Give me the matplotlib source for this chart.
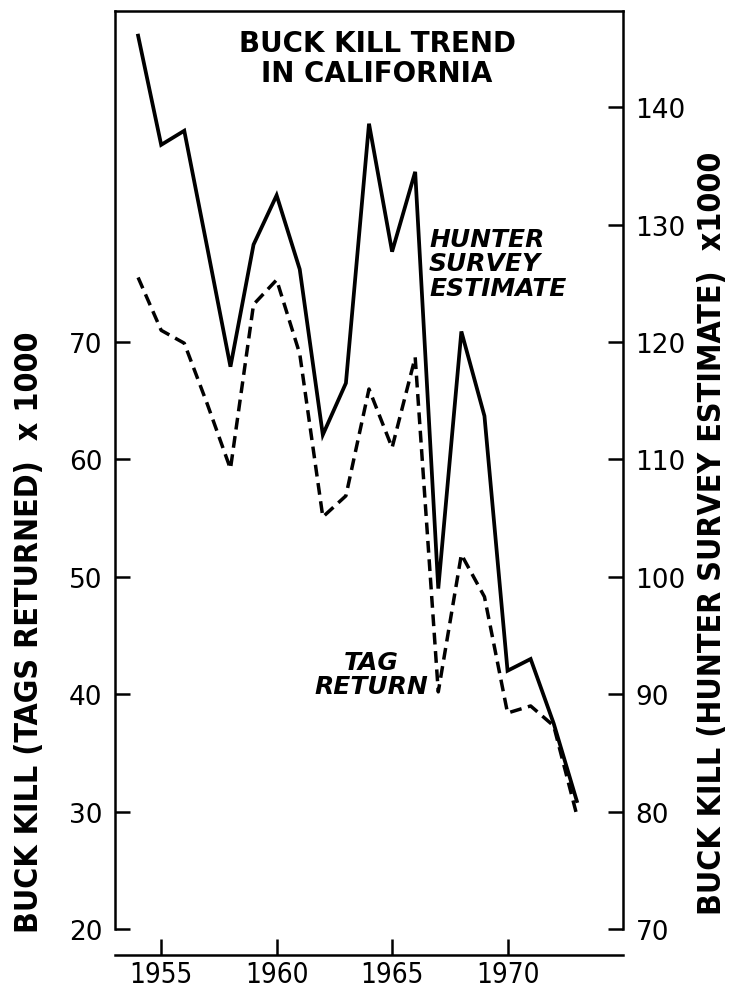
import matplotlib
matplotlib.use('Agg')
import matplotlib.pyplot as plt

years = list(range(1954, 1974))
hunter_survey = [146.1, 136.8, 138.0, 128.0, 117.9, 128.3, 132.5, 126.2, 112.1, 116.5,
                 138.6, 127.7, 134.5, 99.0, 120.9, 113.7, 92.0, 93.0, 87.5, 80.9]
tag_return = [75.5, 71.0, 69.9, 64.7, 59.2, 73.2, 75.3, 69.0, 55.1, 56.9,
              66.0, 61.0, 68.7, 40.2, 51.9, 48.3, 38.4, 39.0, 37.3, 29.7]
left_ticks = [20, 30, 40, 50, 60, 70]
right_ticks = [70, 80, 90, 100, 110, 120, 130, 140]
x_ticks = [1955, 1960, 1965, 1970]

title = "BUCK KILL TREND\nIN CALIFORNIA"
left_label = "BUCK KILL (TAGS RETURNED)  x 1000"
right_label = "BUCK KILL (HUNTER SURVEY ESTIMATE)  x1000"
hunter_note = "HUNTER\nSURVEY\nESTIMATE"
tag_note = "TAG\nRETURN"

W, H = 734, 995
fig = plt.figure(figsize=(W / 100, H / 100), dpi=100)
L, R, T, B = 115, 623, 12, 930
ax = fig.add_axes([L / W, 1 - B / H, (R - L) / W, (B - T) / H])
ax.set_xlim(1953, 1975)
ax.set_ylim(20, 98.2)
ax2 = ax.twinx()
ax2.set_ylim(70, 148.2)

ax.plot(years, tag_return, color='black', lw=2.5, linestyle=(0, (3.4, 1.9)),
        solid_joinstyle='miter', dash_capstyle='butt')
ax2.plot(years, hunter_survey, color='black', lw=2.7, solid_joinstyle='miter')

lw_sp = 1.8
for s in ['left', 'top', 'bottom']:
    ax.spines[s].set_linewidth(lw_sp)
ax.spines['right'].set_visible(False)
ax.spines['bottom'].set_position(('outward', 18.5))
for s in ['left', 'top', 'bottom']:
    ax2.spines[s].set_visible(False)
ax2.spines['right'].set_linewidth(lw_sp)

ax.set_yticks(left_ticks)
ax2.set_yticks(right_ticks)
ax.set_xticks(x_ticks)
ax.tick_params(axis='y', direction='in', length=11, width=1.8, labelsize=19, pad=9)
ax2.tick_params(axis='y', direction='in', length=11, width=1.8, labelsize=19, pad=9)
ax.tick_params(axis='x', direction='in', length=11.5, width=1.8, labelsize=20, pad=4)
for lab in ax.get_xticklabels():
    lab.set_fontstretch('condensed')

fig.text(30 / W, 1 - 632 / H, left_label, rotation=90, ha='center', va='center',
         fontsize=23, fontweight='bold', fontstretch='condensed')
fig.text(712 / W, 1 - 533 / H, right_label, rotation=90, ha='center', va='center',
         fontsize=23, fontweight='bold', fontstretch='condensed')

ax.text(1964.35, 96.7, title, ha='center', va='top', fontsize=20, fontweight='bold',
        multialignment='center', linespacing=1.1)
ax2.text(1966.6, 129.8, hunter_note, ha='left', va='top', fontsize=18,
         style='italic', fontweight='bold', linespacing=1.02)
ax.text(1964.1, 40.1, tag_note, ha='center', va='baseline', fontsize=18,
        style='italic', fontweight='bold', multialignment='center', linespacing=1.02)

fig.savefig('out.png', dpi=100)
